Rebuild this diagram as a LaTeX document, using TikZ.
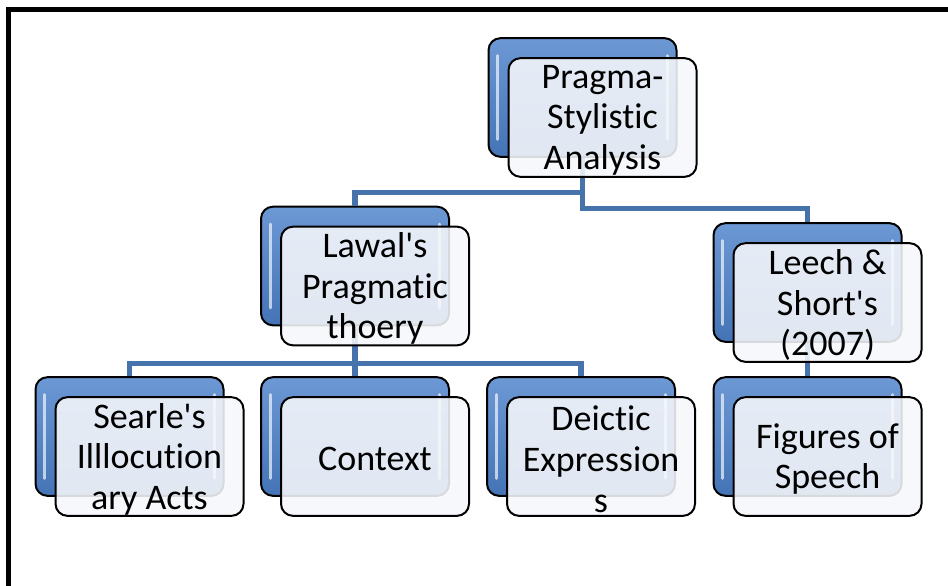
\documentclass[tikz,border=0pt]{standalone}
\usepackage{fontspec}
\setmainfont{Carlito}[Ligatures={NoCommon}]
\usepackage{tikz}
\usetikzlibrary{calc}

\definecolor{linkblue}{RGB}{70,115,172}
\definecolor{boxtop}{RGB}{108,152,212}
\definecolor{boxbot}{RGB}{68,116,182}
\definecolor{glass}{RGB}{247,248,251}

\tikzset{
  backbox/.style={draw=black, line width=1.5pt, rounded corners=9pt,
    minimum width=141pt, minimum height=89pt,
    top color=boxtop, bottom color=boxbot,
    path picture={
      \draw[white, opacity=.65, line width=2.2pt, line cap=round]
        ([xshift=7pt,yshift=-13pt]path picture bounding box.north west)
        -- ([xshift=7pt,yshift=13pt]path picture bounding box.south west);
      \draw[white, opacity=.65, line width=2.2pt, line cap=round]
        ([xshift=-7pt,yshift=-13pt]path picture bounding box.north east)
        -- ([xshift=-7pt,yshift=13pt]path picture bounding box.south east);
    }},
  frontbox/.style={draw=black, line width=1.5pt, rounded corners=9pt,
    minimum width=141pt, minimum height=89pt,
    fill=glass, fill opacity=.88, text opacity=1},
  label/.style={align=center, inner sep=0pt, yshift=-2pt,
    font=\fontsize{27}{30.5}\selectfont},
  link/.style={draw=linkblue, line width=3.8pt}
}
\newcommand{\q}{\textquotesingle}

\begin{document}
\begin{tikzpicture}[x=0.75pt,y=-0.75pt]
\useasboundingbox (0,0) rectangle (948,585);
\clip (0,0) rectangle (948,585);
\fill[white] (0,0) rectangle (948,585);
\draw[line width=3.75pt] (8.5,9.5) rectangle (1000,700);

% back boxes
\node[backbox] (top-b) at (582.5,97.5) {};
\node[backbox] (lawal-b) at (355,266) {};
\node[backbox] (leech-b) at (807.5,282.5) {};
\node[backbox] (searle-b) at (129.5,436.5) {};
\node[backbox] (context-b) at (355,436.5) {};
\node[backbox] (deictic-b) at (581,436.5) {};
\node[backbox] (figures-b) at (807.5,436.5) {};

% connectors
\path[link] (top-b.south) -- ++(0,35) -| (lawal-b.north);
\path[link] (top-b.south) -- ++(0,51) -| (leech-b.north);
\path[link] (lawal-b.south) -- ++(0,37) -| (searle-b.north);
\path[link] (lawal-b.south) -- (context-b.north);
\path[link] (lawal-b.south) -- ++(0,37) -| (deictic-b.north);
\path[link] (leech-b.south) -- (figures-b.north);

% front boxes
\node[frontbox] (top) at ($(top-b)+(20,20)$) {};
\node[frontbox] (lawal) at ($(lawal-b)+(20,20)$) {};
\node[frontbox] (leech) at ($(leech-b)+(20,20)$) {};
\node[frontbox] (searle) at ($(searle-b)+(20,20)$) {};
\node[frontbox] (context) at ($(context-b)+(20,20)$) {};
\node[frontbox] (deictic) at ($(deictic-b)+(20,20)$) {};
\node[frontbox] (figures) at ($(figures-b)+(20,20)$) {};

% texts
\node[label] at (top) {Pragma-\\Stylistic\\Analysis};
\node[label] at (lawal) {Lawal\q s\\Pragmatic\\thoery};
\node[label] at (leech) {Leech \&\\Short\q s\\(2007)};
\node[label] at (searle) {Searle\q s\\Illlocution\\ary Acts};
\node[label] at (context) {Context};
\node[label] at (deictic) {Deictic\\Expression\\s};
\node[label] at (figures) {Figures of\\Speech};
\end{tikzpicture}
\end{document}
